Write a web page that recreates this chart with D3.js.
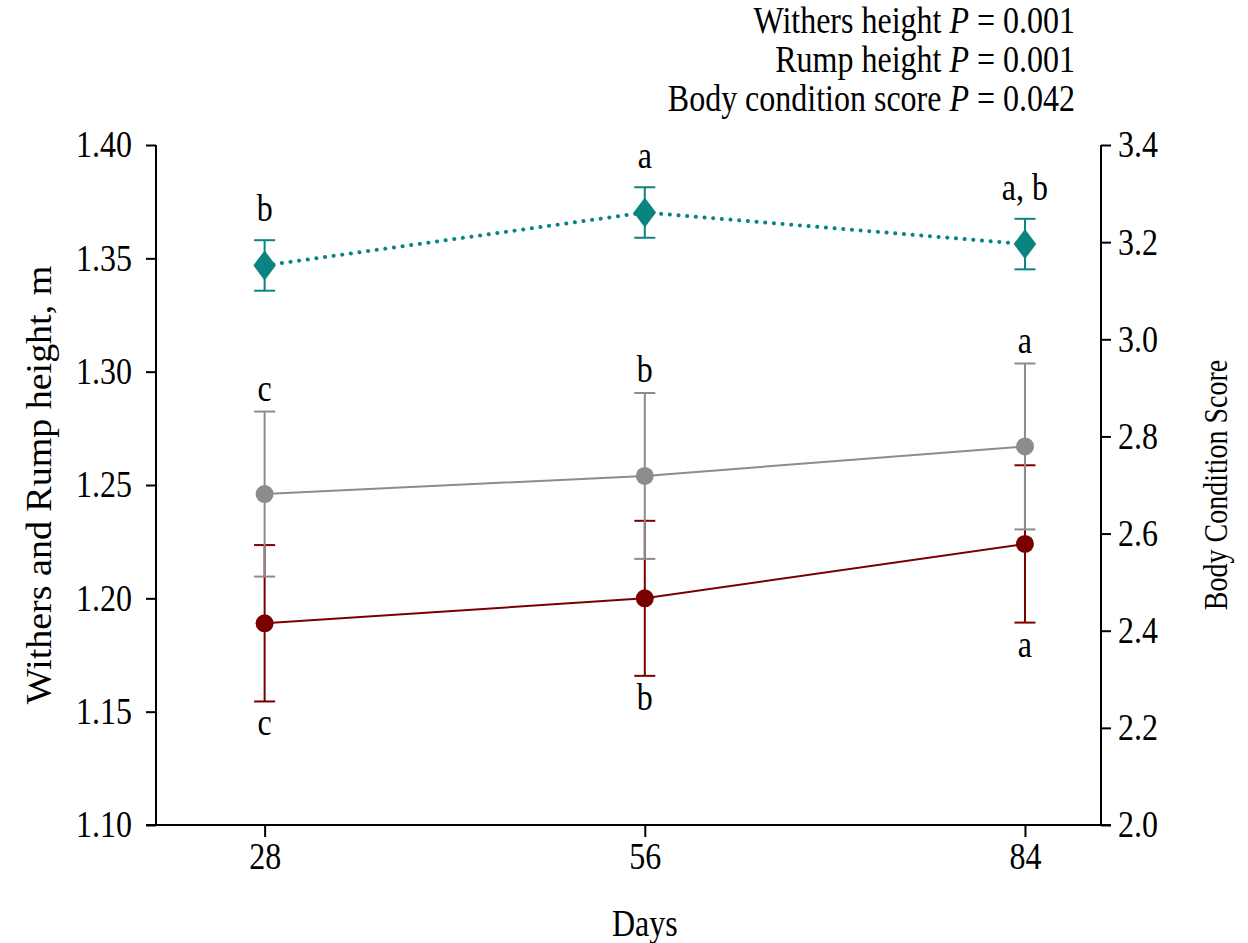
<!DOCTYPE html>
<html>
<head>
<meta charset="utf-8">
<script src="https://cdn.jsdelivr.net/npm/d3@7"></script>
<style>
  html, body { margin: 0; padding: 0; background: #fff; }
  svg text { font-family: "Liberation Serif", "Times New Roman", serif; fill: #000; }
</style>
</head>
<body>
<svg id="chart" width="1248" height="943"></svg>
<script>
// ---- data ----
const days = [28, 56, 84];
const xTicks = [28, 56, 84];
const leftTicks = [1.10, 1.15, 1.20, 1.25, 1.30, 1.35, 1.40];
const rightTicks = [2.0, 2.2, 2.4, 2.6, 2.8, 3.0, 3.2, 3.4];

const rumpHeight = [1.246, 1.254, 1.267];      // grey
const rumpSE = [0.0364, 0.0366, 0.0366];
const rumpLetters = ["c", "b", "a"];

const withersHeight = [1.189, 1.200, 1.224];   // dark red
const withersSE = [0.0345, 0.0342, 0.0347];
const withersLetters = ["c", "b", "a"];

const bcs = [3.152, 3.261, 3.196];             // teal, right axis
const bcsSE = [0.052, 0.052, 0.052];
const bcsLetters = ["b", "a", "a, b"];

const pLines = [
  ["Withers height ", "0.001"],
  ["Rump height ", "0.001"],
  ["Body condition score ", "0.042"]
];

// ---- layout ----
const svg = d3.select("#chart");
const pLeft = 156, pRight = 1101, pTop = 145, pBottom = 825;
const FS = 32;       // horizontal text size
const SY = 1.16;     // vertical stretch of glyphs in the reference

const x = d3.scaleLinear().domain([20, 89.6]).range([pLeft, pRight]);
const yL = d3.scaleLinear().domain([1.10, 1.40]).range([pBottom, pTop]);
const yR = d3.scaleLinear().domain([2.0, 3.4]).range([pBottom, pTop]);

const colGrey = "#8c8c8c", colRed = "#7a0000", colTeal = "#0b8481";

// stretched horizontal text
function txt(xx, yy, anchor) {
  return svg.append("text").attr("transform", `translate(${xx},${yy}) scale(1,${SY})`)
    .attr("text-anchor", anchor).style("font-size", FS + "px");
}

// axes
const axL = d3.axisLeft(yL).tickValues(leftTicks).tickFormat(d3.format(".2f")).tickSize(10).tickPadding(14);
const axR = d3.axisRight(yR).tickValues(rightTicks).tickFormat(d3.format(".1f")).tickSize(10).tickPadding(7);
const axB = d3.axisBottom(x).tickValues(xTicks).tickFormat(d3.format("d")).tickSize(12).tickPadding(6);

function styleAxis(g) {
  g.select(".domain").remove();
  g.selectAll(".tick line").attr("stroke", "#000").attr("stroke-width", 2);
  g.selectAll(".tick text").each(function () {
    const t = d3.select(this);
    const tx = +t.attr("x") || 0, ty = +t.attr("y") || 0;
    t.attr("x", 0).attr("y", 0).attr("transform", `translate(${tx},${ty}) scale(1,${SY})`)
      .style("font-size", FS + "px").style("font-family", "Liberation Serif").attr("fill", "#000");
  });
}
svg.append("g").attr("transform", `translate(${pLeft},0)`).call(axL).call(styleAxis);
svg.append("g").attr("transform", `translate(${pRight},0)`).call(axR).call(styleAxis);
svg.append("g").attr("transform", `translate(0,${pBottom})`).call(axB).call(styleAxis);

// axis lines
svg.append("line").attr("x1", pLeft).attr("x2", pLeft).attr("y1", pTop).attr("y2", pBottom).attr("stroke", "#000").attr("stroke-width", 2);
svg.append("line").attr("x1", pRight).attr("x2", pRight).attr("y1", pTop).attr("y2", pBottom).attr("stroke", "#000").attr("stroke-width", 2);
svg.append("line").attr("x1", pLeft - 10).attr("x2", pRight + 10).attr("y1", pBottom).attr("y2", pBottom).attr("stroke", "#000").attr("stroke-width", 2);

// axis titles (rotated)
svg.append("text").attr("transform", `translate(38,${(pTop + pBottom) / 2}) rotate(-90) scale(1,0.95)`)
  .attr("text-anchor", "middle").attr("dy", "0.35em").style("font-size", "38px").text("Withers and Rump height, m");
svg.append("text").attr("transform", `translate(1215,${(pTop + pBottom) / 2}) rotate(-90) scale(1,1.2)`)
  .attr("text-anchor", "middle").attr("dy", "0.35em").style("font-size", "28px").text("Body Condition Score");
txt(x(56), 936, "middle").text("Days");

// P value block
const pBase = [33, 72, 111];
pLines.forEach((p, i) => {
  const t = txt(1075, pBase[i], "end");
  t.append("tspan").text(p[0]);
  t.append("tspan").style("font-style", "italic").text("P");
  t.append("tspan").text(" = " + p[1]);
});

// series helper
function drawErr(g, vals, ses, yS, col, w) {
  vals.forEach((v, i) => {
    const cx = x(days[i]);
    g.append("line").attr("x1", cx).attr("x2", cx).attr("y1", yS(v - ses[i])).attr("y2", yS(v + ses[i]))
      .attr("stroke", col).attr("stroke-width", w);
    [v - ses[i], v + ses[i]].forEach(e => {
      g.append("line").attr("x1", cx - 10.5).attr("x2", cx + 10.5).attr("y1", yS(e)).attr("y2", yS(e))
        .attr("stroke", col).attr("stroke-width", w);
    });
  });
}

const line = (yS) => d3.line().x((d, i) => x(days[i])).y(d => yS(d));

// withers (red)
const gW = svg.append("g");
drawErr(gW, withersHeight, withersSE, yL, colRed, 2);
gW.append("path").datum(withersHeight).attr("d", line(yL)).attr("fill", "none").attr("stroke", colRed).attr("stroke-width", 2);
gW.selectAll("circle").data(withersHeight).enter().append("circle")
  .attr("cx", (d, i) => x(days[i])).attr("cy", d => yL(d)).attr("r", 9).attr("fill", colRed);

// rump (grey)
const gRu = svg.append("g");
drawErr(gRu, rumpHeight, rumpSE, yL, colGrey, 2);
gRu.append("path").datum(rumpHeight).attr("d", line(yL)).attr("fill", "none").attr("stroke", colGrey).attr("stroke-width", 2);
gRu.selectAll("circle").data(rumpHeight).enter().append("circle")
  .attr("cx", (d, i) => x(days[i])).attr("cy", d => yL(d)).attr("r", 9).attr("fill", colGrey);

// BCS (teal)
const gB2 = svg.append("g");
drawErr(gB2, bcs, bcsSE, yR, colTeal, 2);
gB2.append("path").datum(bcs).attr("d", line(yR)).attr("fill", "none").attr("stroke", colTeal)
  .attr("stroke-width", 4).attr("stroke-linecap", "round").attr("stroke-dasharray", "0.1 8.6");
const dia = d3.symbol().type(d3.symbolDiamond).size(260);
gB2.selectAll("path.m").data(bcs).enter().append("path").attr("class", "m")
  .attr("d", dia).attr("transform", (d, i) => `translate(${x(days[i])},${yR(d)}) scale(1.3,1)`).attr("fill", colTeal);

// letters
function letters(vals, ses, yS, labs, above, off) {
  vals.forEach((v, i) => {
    const yy = above ? yS(v + ses[i]) - off : yS(v - ses[i]) + off;
    txt(x(days[i]), yy, "middle").text(labs[i]);
  });
}
letters(rumpHeight, rumpSE, yL, rumpLetters, true, 11);
letters(withersHeight, withersSE, yL, withersLetters, false, 34);
letters(bcs, bcsSE, yR, bcsLetters, true, 19);
</script>
</body>
</html>
